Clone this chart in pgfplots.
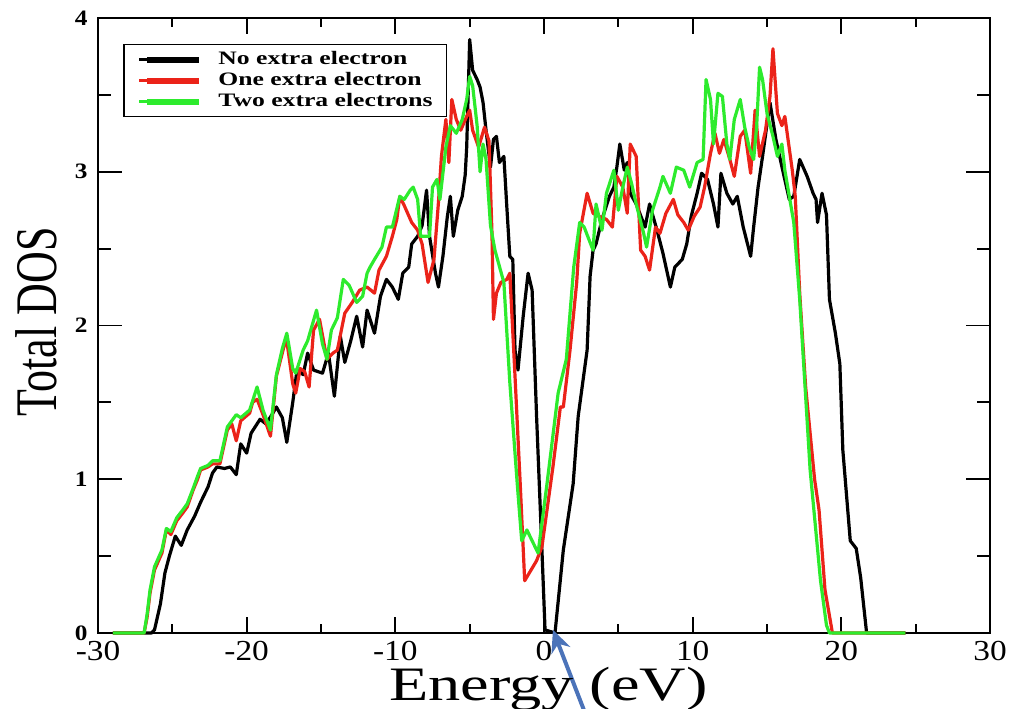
\documentclass[border=0pt]{standalone}
\usepackage{pgfplots}
\pgfplotsset{compat=1.18}
\usepackage{fontspec}
\setmainfont{Liberation Serif}
\usetikzlibrary{arrows.meta}
\definecolor{dosred}{RGB}{235,35,25}
\definecolor{dosgreen}{RGB}{45,235,45}
\definecolor{arrowblue}{RGB}{75,115,185}
\begin{document}
\begin{tikzpicture}
\begin{axis}[
  name=ax,
  scale only axis, width=446pt, height=307.5pt,
  xmin=-30, xmax=30, ymin=0, ymax=4,
  xtick={-30,-20,...,30}, ytick={0,1,2,3,4},
  minor x tick num=1, minor y tick num=1,
  tick align=inside,
  major tick length=8pt, minor tick length=4.5pt,
  y tick style={/pgfplots/major tick length=12pt, /pgfplots/minor tick length=6.5pt},
  axis line style={line width=1pt},
  every tick/.style={black, line width=0.9pt},
  /pgf/number format/assume math mode=true,
  xticklabel={\scalebox{1.15}[1]{\pgfmathprintnumber{\tick}}},
  xticklabel style={font=\fontsize{14.5}{14.5}\selectfont, anchor=north, inner sep=0pt, yshift=-4pt},
  yticklabel={\scalebox{1.15}[1]{\pgfmathprintnumber{\tick}}},
  yticklabel style={font=\bfseries\fontsize{11}{11}\selectfont, anchor=east, inner sep=0pt, xshift=-5pt},
  xlabel={\scalebox{1.34}[1]{\fontsize{24}{24}\selectfont Energy (eV)}},
  xlabel style={at={(axis description cs:0.505,0)}, anchor=base, yshift=-34pt},
  ylabel={\scalebox{1}[1.34]{\fontsize{22}{22}\selectfont Total DOS}},
  ylabel style={at={(axis description cs:-0.0695,0.506)}, anchor=center},
  legend style={at={(0.028,0.958)}, anchor=north west, draw=black, line width=0.8pt,
    font=\bfseries\fontsize{9.5}{9.5}\selectfont,
    inner xsep=7pt, inner ysep=3pt, row sep=1.5pt, column sep=8pt,
    nodes={inner sep=0pt, text height=7pt, text depth=2pt}},
  legend cell align=left,
  legend image code/.code={\path (0pt,0pt) -- (4pt,0pt); \draw[#1, line width=3pt] (4pt,0pt) -- (30pt,0pt);},
  clip=false,
  every axis plot/.append style={line width=1.6pt, line join=round},
]
% No extra electron
\addplot[black] coordinates {
(-29.0,0) (-26.4,0) (-26.2,0.02) (-25.8,0.19) (-25.5,0.39) (-25.2,0.50) (-24.8,0.63)
(-24.4,0.57) (-24.0,0.67) (-23.5,0.76) (-23.1,0.85) (-22.6,0.95) (-22.3,1.04) (-22.0,1.08)
(-21.5,1.07) (-21.1,1.08) (-20.7,1.03) (-20.4,1.23) (-20.0,1.17) (-19.7,1.30) (-19.1,1.39)
(-18.7,1.36) (-18.3,1.42) (-18.0,1.47) (-17.6,1.40) (-17.3,1.24) (-16.9,1.50) (-16.6,1.72)
(-16.2,1.68) (-15.9,1.82) (-15.5,1.71) (-14.9,1.69) (-14.5,1.82) (-14.1,1.54) (-13.7,1.93)
(-13.4,1.76) (-13.0,1.90) (-12.6,2.06) (-12.2,1.86) (-11.9,2.10) (-11.4,1.95) (-11.0,2.19)
(-10.6,2.30) (-10.2,2.25) (-9.8,2.17) (-9.5,2.34) (-9.1,2.38) (-8.9,2.53) (-8.5,2.58)
(-8.2,2.65) (-7.9,2.88) (-7.7,2.58) (-7.3,2.34) (-7.1,2.25) (-6.8,2.45) (-6.5,2.71)
(-6.3,2.84) (-6.1,2.58) (-5.8,2.75) (-5.5,2.84) (-5.3,2.98) (-5.2,3.16) (-5.0,3.86)
(-4.8,3.66) (-4.5,3.60) (-4.3,3.55) (-4.1,3.45) (-3.9,3.27) (-3.6,3.03) (-3.4,3.21)
(-3.2,3.23) (-3.0,3.06) (-2.7,3.10) (-2.5,2.77) (-2.3,2.45) (-2.1,2.43) (-1.95,1.84)
(-1.75,1.71) (-1.4,2.06) (-1.07,2.34) (-0.8,2.23) (-0.5,1.41) (-0.14,0.54) (0.07,0.02)
(0.74,0) (1.3,0.54) (1.96,0.97) (2.3,1.41) (2.9,1.84) (3.1,2.32) (3.3,2.49) (3.5,2.53)
(3.9,2.69) (4.4,2.84) (4.7,2.90) (4.9,3.03) (5.1,3.18) (5.4,3.01) (5.6,3.06) (5.8,2.86)
(6.2,2.79) (6.6,2.69) (6.8,2.64) (7.1,2.79) (7.6,2.62) (8.0,2.47) (8.5,2.25) (8.8,2.38)
(9.3,2.43) (9.6,2.53) (9.9,2.71) (10.3,2.86) (10.6,2.99) (11.0,2.95) (11.4,2.79)
(11.7,2.64) (11.9,2.99) (12.3,2.86) (12.7,2.79) (13.0,2.84) (13.4,2.64) (13.9,2.45)
(14.1,2.64) (14.4,2.90) (14.7,3.10) (15.2,3.45) (15.6,3.21) (16.1,2.99) (16.5,2.82)
(16.8,2.84) (17.2,3.08) (17.7,2.97) (18.1,2.86) (18.3,2.82) (18.4,2.67) (18.7,2.86)
(19.0,2.72) (19.2,2.17) (19.6,1.95) (19.9,1.75) (20.1,1.19) (20.6,0.60) (21.0,0.55)
(21.3,0.36) (21.7,0) (24.3,0)
};
\addlegendentry{\scalebox{1.35}[1]{No extra electron}}
% One extra electron
\addplot[dosred] coordinates {
(-29.0,0) (-26.9,0) (-26.7,0.10) (-26.5,0.26) (-26.2,0.41) (-25.7,0.52) (-25.4,0.67)
(-25.1,0.64) (-24.7,0.73) (-24.3,0.78) (-24.0,0.82) (-23.6,0.93) (-23.3,1.00) (-23.1,1.06)
(-22.6,1.08) (-22.3,1.10) (-21.8,1.10) (-21.3,1.32) (-21.0,1.36) (-20.7,1.25) (-20.4,1.38)
(-19.8,1.43) (-19.6,1.50) (-19.3,1.52) (-18.9,1.42) (-18.4,1.28) (-18.0,1.67) (-17.5,1.86)
(-17.3,1.90) (-16.9,1.62) (-16.7,1.56) (-16.4,1.72) (-16.1,1.70) (-15.8,1.60) (-15.5,1.97)
(-15.1,2.04) (-14.6,1.78) (-14.2,1.82) (-13.9,1.84) (-13.4,2.08) (-12.9,2.15) (-12.4,2.23)
(-11.9,2.25) (-11.4,2.21) (-11.1,2.36) (-10.6,2.45) (-10.2,2.58) (-9.9,2.69) (-9.7,2.84)
(-9.4,2.78) (-8.9,2.67) (-8.5,2.62) (-8.2,2.53) (-7.8,2.28) (-7.4,2.43) (-7.1,2.80)
(-6.9,3.10) (-6.6,3.34) (-6.4,3.06) (-6.2,3.47) (-5.9,3.34) (-5.6,3.27) (-5.2,3.36)
(-5.0,3.40) (-4.8,3.27) (-4.4,3.16) (-4.0,3.29) (-3.7,3.20) (-3.5,2.60) (-3.4,2.04)
(-3.2,2.21) (-2.9,2.28) (-2.5,2.30) (-2.3,2.34) (-1.95,1.67) (-1.6,0.97) (-1.3,0.34)
(-0.5,0.47) (-0.14,0.56) (0.6,1.08) (1.1,1.47) (1.3,1.47) (1.75,1.84) (2.2,2.28)
(2.4,2.60) (2.9,2.86) (3.3,2.73) (3.7,2.71) (4.2,2.69) (4.6,2.64) (4.9,2.97) (5.3,2.90)
(5.6,2.73) (5.8,3.18) (6.2,3.10) (6.5,2.49) (6.8,2.45) (7.1,2.36) (7.5,2.64) (7.8,2.60)
(8.2,2.73) (8.7,2.82) (9.0,2.72) (9.4,2.67) (9.7,2.62) (10.1,2.71) (10.5,2.77) (10.8,2.90)
(11.2,3.12) (11.5,3.25) (11.8,3.12) (12.1,3.21) (12.5,3.08) (12.8,2.97) (13.2,3.23)
(13.5,3.27) (13.9,2.99) (14.2,3.40) (14.5,3.10) (14.9,3.27) (15.2,3.49) (15.4,3.80)
(15.7,3.38) (16.0,3.30) (16.2,3.36) (16.7,3.01) (16.9,2.84) (17.2,2.21) (17.6,1.60)
(18.2,1.00) (18.5,0.80) (18.9,0.28) (19.4,0) (24.3,0)
};
\addlegendentry{\scalebox{1.35}[1]{One extra electron}}
% Two extra electrons
\addplot[dosgreen] coordinates {
(-29.0,0) (-26.9,0) (-26.7,0.12) (-26.5,0.28) (-26.2,0.43) (-25.7,0.54) (-25.4,0.68)
(-25.1,0.66) (-24.7,0.75) (-24.3,0.80) (-24.0,0.84) (-23.6,0.94) (-23.3,1.02) (-23.1,1.07)
(-22.6,1.09) (-22.3,1.12) (-21.8,1.12) (-21.3,1.34) (-21.0,1.38) (-20.7,1.42) (-20.4,1.40)
(-19.8,1.45) (-19.3,1.60) (-18.9,1.45) (-18.4,1.32) (-18.0,1.68) (-17.6,1.85) (-17.3,1.95)
(-16.9,1.72) (-16.7,1.69) (-16.2,1.84) (-15.9,1.90) (-15.6,2.00) (-15.3,2.10) (-14.9,1.88)
(-14.6,1.78) (-14.3,1.97) (-13.9,2.05) (-13.5,2.30) (-13.1,2.26) (-12.6,2.15) (-12.2,2.19)
(-11.9,2.34) (-11.7,2.38) (-11.4,2.43) (-10.9,2.51) (-10.6,2.64) (-10.2,2.64) (-9.7,2.84)
(-9.4,2.82) (-9.0,2.88) (-8.8,2.90) (-8.5,2.82) (-8.3,2.58) (-7.7,2.58) (-7.5,2.90)
(-7.2,2.95) (-7.0,2.82) (-6.6,3.16) (-6.3,3.30) (-5.9,3.25) (-5.5,3.34) (-5.2,3.47)
(-5.0,3.62) (-4.8,3.56) (-4.5,3.30) (-4.3,3.00) (-4.1,3.18) (-3.9,3.08) (-3.6,2.65)
(-3.3,2.49) (-2.7,2.28) (-2.3,1.63) (-1.8,0.97) (-1.5,0.60) (-1.15,0.67) (-0.4,0.52)
(0.2,0.97) (0.95,1.56) (1.5,1.78) (2.0,2.38) (2.4,2.67) (2.7,2.64) (3.3,2.49) (3.5,2.79)
(3.9,2.62) (4.2,2.86) (4.7,3.01) (5.0,2.75) (5.3,2.90) (5.6,3.03) (5.9,2.92) (6.2,2.79)
(6.7,2.60) (6.9,2.51) (7.3,2.75) (7.8,2.90) (8.0,2.97) (8.5,2.86) (8.9,3.03) (9.4,3.01)
(9.8,2.90) (10.3,3.06) (10.7,3.08) (10.9,3.60) (11.2,3.47) (11.4,3.18) (11.7,3.51)
(12.0,3.49) (12.3,3.18) (12.5,3.08) (12.8,3.34) (13.2,3.47) (13.5,3.29) (13.8,3.16)
(14.1,3.08) (14.3,3.29) (14.5,3.68) (14.7,3.60) (15.0,3.38) (15.4,3.23) (15.7,3.10)
(16.0,3.18) (16.2,3.01) (16.5,2.84) (16.8,2.67) (17.2,2.17) (17.9,1.06) (18.6,0.34)
(19.0,0.05) (19.2,0) (24.3,0)
};
\addlegendentry{\scalebox{1.35}[1]{Two extra electrons}}
% pointer to the Fermi level
\draw[arrowblue, line width=2pt, -{Stealth[length=11pt,width=10pt]}]
  (axis cs:2.76,-0.52) -- (axis cs:0.6,0.02);
\end{axis}
\pgfresetboundingbox
\path ([xshift=-49pt,yshift=-38pt]ax.south west) rectangle ([xshift=10pt,yshift=9pt]ax.north east);
\end{tikzpicture}
\end{document}
